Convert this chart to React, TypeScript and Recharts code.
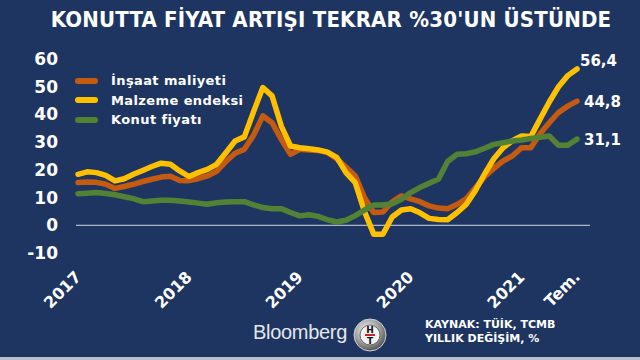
import { LineChart, Line, XAxis, YAxis, ReferenceLine, LabelList } from "recharts";

// yearly change, %, monthly Jan 2017 - Jul 2021
const insaat = [
  15.4, 15.6, 15.5, 14.8, 13.3, 14, 14.8, 15.8, 16.6, 17.4, 17.7, 16.2,
  16.1, 16.8, 17.8, 19.5, 23, 26, 27.4, 32.5, 39.5, 37, 31, 25.6,
  27.4, 27.2, 27, 26.3, 24, 21, 17.8, 10, 4.6, 4.8, 8.5, 10.6,
  9.5, 8.5, 7, 6.2, 6, 7.5, 9.5, 13.5, 17.5, 20.5, 23.2, 25,
  28, 28, 33, 37, 40.7, 43, 44.8,
];
const malzeme = [
  18.4, 19.3, 19, 18, 16, 16.8, 18.4, 19.8, 21.2, 22.4, 22, 19.6,
  17.6, 19, 20.2, 22, 26.2, 30.4, 31.9, 41, 49.7, 46.7, 35.8, 28.6,
  28, 27.6, 27.2, 26.4, 24.5, 19, 15.4, 5, -3.2, -3.2, 3, 5.5,
  6, 4.5, 2.5, 2.1, 2, 4.5, 7.5, 12.5, 18.5, 24, 28, 30.5,
  32.2, 32, 38.3, 44.5, 50, 54, 56.4,
];
const konut = [
  11.4, 11.6, 11.8, 11.5, 11, 10.3, 9.6, 8.5, 8.8, 9, 9, 8.8,
  8.4, 8, 7.6, 8.1, 8.4, 8.5, 8.5, 7.4, 6.4, 6, 6, 4.6,
  3.4, 3.8, 3.2, 2, 1.2, 1.8, 3.5, 5.5, 7.3, 7.3, 7.8, 9.4,
  11.8, 13.6, 15.2, 16.6, 23, 25.6, 25.8, 26.5, 27.8, 29.2, 29.8, 30.4,
  30.8, 31.3, 31.8, 32.2, 28.9, 28.9, 31.1,
];

const months = insaat.map((_, i) => {
  const y = 2017 + Math.floor(i / 12);
  const m = (i % 12) + 1;
  return `${y}-${String(m).padStart(2, "0")}`;
});
const tickKeys = ["2017-01", "2018-01", "2019-01", "2020-01", "2021-01", "2021-07"];
const tickLabels = ["2017", "2018", "2019", "2020", "2021", "Tem."];
const yTicks = [-10, 0, 10, 20, 30, 40, 50, 60];

const series = [
  { key: "insaat", name: "İnşaat maliyeti", color: "#c55a11", dx: 7, dy: 6 },
  { key: "malzeme", name: "Malzeme endeksi", color: "#ffc000", dx: 3, dy: -3 },
  { key: "konut", name: "Konut fiyatı", color: "#548235", dx: 7, dy: 6 },
];

const data = months.map((m, i) => ({
  month: m,
  insaat: insaat[i],
  malzeme: malzeme[i],
  konut: konut[i],
}));

const BG = "#1e3562";
const FONT = "'DejaVu Sans', Verdana, sans-serif";

function XTick({ x, y, payload }: any) {
  const label = tickLabels[tickKeys.indexOf(payload.value)];
  return (
    <text
      x={x + 4}
      y={y + 17}
      transform={`rotate(-45, ${x + 4}, ${y + 17})`}
      textAnchor="end"
      fill="#fff"
      fontSize={16}
      fontWeight="bold"
      fontFamily={FONT}
    >
      {label}
    </text>
  );
}

function EndLabel({ dx, dy }: { dx: number; dy: number }) {
  return (props: any) => {
    if (props.index !== months.length - 1) return null;
    return (
      <text
        x={props.x + dx}
        y={props.y + dy}
        fill="#fff"
        fontSize={15}
        fontWeight="bold"
        fontFamily={FONT}
      >
        {String(props.value).replace(".", ",")}
      </text>
    );
  };
}

export default function App() {
  return (
    <div
      style={{
        position: "fixed",
        left: 0,
        top: 0,
        width: 640,
        height: 360,
        background: BG,
        fontFamily: FONT,
        overflow: "hidden",
      }}
    >
      {/* Title */}
      <div
        style={{
          position: "absolute",
          left: 0,
          top: 7,
          width: 662,
          textAlign: "center",
          color: "#fff",
          fontFamily: "'DejaVu Sans Condensed', 'DejaVu Sans', sans-serif",
          fontWeight: "bold",
          fontSize: 22,
          letterSpacing: 0.2,
          whiteSpace: "nowrap",
        }}
      >
        KONUTTA FİYAT ARTIŞI TEKRAR %30'UN ÜSTÜNDE
      </div>

      <LineChart
        width={640}
        height={360}
        data={data}
        margin={{ top: 59, right: 50, bottom: 77, left: 16 }}
      >
        <XAxis
          dataKey="month"
          ticks={tickKeys}
          interval={0}
          axisLine={false}
          tickLine={false}
          height={30}
          padding={{ left: 2, right: 13 }}
          tick={<XTick />}
        />
        <YAxis
          width={60}
          domain={[-10, 60]}
          ticks={yTicks}
          axisLine={false}
          tickLine={false}
          tickMargin={12}
          tick={{ fill: "#fff", fontSize: 17, fontWeight: "bold", fontFamily: FONT }}
        />
        <ReferenceLine y={0} stroke="#d3d8e2" strokeWidth={1} />
        {series.map((s) => (
          <Line
            key={s.key}
            type="linear"
            dataKey={s.key}
            stroke={s.color}
            strokeWidth={5.5}
            strokeLinejoin="round"
            strokeLinecap="round"
            dot={false}
            isAnimationActive={false}
          >
            <LabelList dataKey={s.key} content={EndLabel(s)} />
          </Line>
        ))}
      </LineChart>

      {/* Legend */}
      <div style={{ position: "absolute", left: 75, top: 71 }}>
        {series.map((s) => (
          <div
            key={s.key}
            style={{ display: "flex", alignItems: "center", height: 19.5 }}
          >
            <div
              style={{
                width: 23,
                height: 6,
                borderRadius: 3,
                background: s.color,
                marginRight: 13,
              }}
            />
            <span
              style={{
                color: "#fff",
                fontSize: 13,
                fontWeight: "bold",
                letterSpacing: 0.4,
              }}
            >
              {s.name}
            </span>
          </div>
        ))}
      </div>

      {/* Footer */}
      <div
        style={{
          position: "absolute",
          left: 253,
          top: 321,
          color: "#e4e7ec",
          fontFamily: "Arial, 'Liberation Sans', sans-serif",
          fontSize: 20,
          letterSpacing: -0.3,
        }}
      >
        Bloomberg
      </div>
      <svg
        width={36}
        height={36}
        style={{ position: "absolute", left: 352, top: 317 }}
      >
        <defs>
          <radialGradient id="ring" cx="40%" cy="35%" r="70%">
            <stop offset="0%" stopColor="#f4f4f4" />
            <stop offset="60%" stopColor="#9a9a9a" />
            <stop offset="100%" stopColor="#4a4a4a" />
          </radialGradient>
        </defs>
        <circle cx={18} cy={18} r={16} fill="url(#ring)" stroke="#cfcfcf" strokeWidth={1} />
        <circle cx={18} cy={18} r={10} fill="#f2f2f2" stroke="#6b6b6b" strokeWidth={1} />
        <text x={18} y={16} textAnchor="middle" fontSize={9} fontWeight="bold" fill="#111" fontFamily={FONT}>
          H
        </text>
        <rect x={13} y={17} width={10} height={2} fill="#d2232a" />
        <text x={18} y={27} textAnchor="middle" fontSize={9} fontWeight="bold" fill="#111" fontFamily={FONT}>
          T
        </text>
      </svg>
      <div
        style={{
          position: "absolute",
          left: 425,
          top: 318,
          color: "#fff",
          fontSize: 11,
          fontWeight: "bold",
          lineHeight: "14px",
        }}
      >
        <div>KAYNAK: TÜİK, TCMB</div>
        <div>YILLIK DEĞİŞİM, %</div>
      </div>
      <div
        style={{
          position: "absolute",
          left: 0,
          top: 357,
          width: 640,
          height: 3,
          background: "#b9c0cc",
        }}
      />
    </div>
  );
}
